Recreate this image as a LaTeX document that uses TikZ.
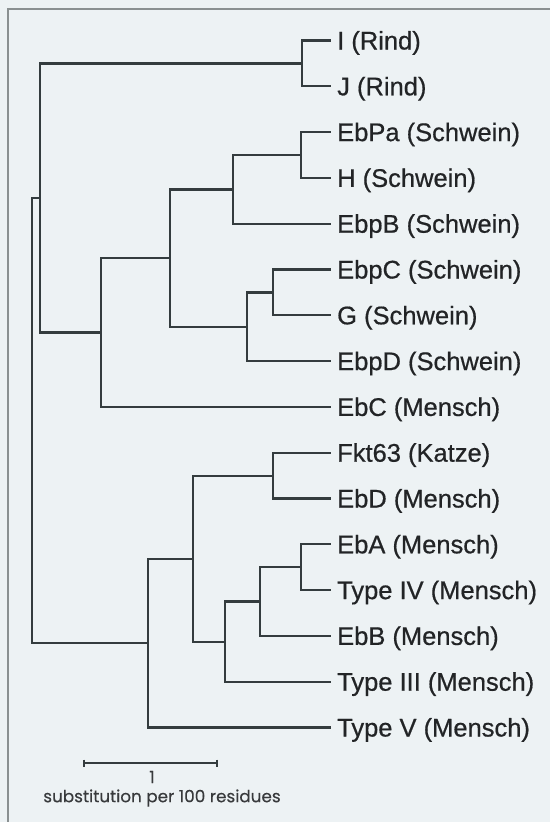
\documentclass[tikz,border=0pt]{standalone}
\usepackage{fontspec}
\setmainfont{Liberation Sans}
\newfontfamily\leaffont{Liberation Sans}[FakeBold=0.6]
\newfontfamily\barlabelfont{Poppins}[FakeBold=0.3]
\definecolor{paper}{RGB}{237,242,244}
\definecolor{branch}{RGB}{52,60,62}
\definecolor{ink}{RGB}{34,36,38}
\definecolor{framegray}{RGB}{138,144,145}
\tikzset{
  branchline/.style={draw=branch, line width=2.2pt, line cap=rect},
  leaflabel/.style={anchor=base west, inner sep=0pt, xshift=7pt, yshift=-9pt,
    text=ink, font=\leaffont\fontsize{25.5}{30}\selectfont},
  scaletext/.style={inner sep=0pt, text=ink!90, font=\barlabelfont\fontsize{16.8}{20}\selectfont},
}
\begin{document}
\begin{tikzpicture}[x=1pt,y=-1pt]
  % page and frame
  \fill[paper] (0,0) rectangle (550,822);
  \useasboundingbox (0,0) rectangle (550,822);
  \draw[framegray, line width=1.4pt] (8,822) -- (8,9) -- (550,9);

  % leaf tips (y = 40.5 + 45.8 i)
  \foreach \nm [count=\i from 0] in {I,J,EbPa,H,EbpB,EbpC,G,EbpD,EbC,Fkt,EbD,EbA,TIV,EbB,TIII,TV}
    \coordinate (l\nm) at (330, 40.5+45.8*\i);

  % labels
  \node[leaflabel] (tI)    at (lI)    {I (Rind)};
  \node[leaflabel] (tJ)    at (lJ)    {J (Rind)};
  \node[leaflabel] (tEbPa) at (lEbPa) {EbPa (Schwein)};
  \node[leaflabel] (tH)    at (lH)    {H (Schwein)};
  \node[leaflabel] (tEbpB) at (lEbpB) {EbpB (Schwein)};
  \node[leaflabel] (tEbpC) at (lEbpC) {EbpC (Schwein)};
  \node[leaflabel] (tG)    at (lG)    {G (Schwein)};
  \node[leaflabel] (tEbpD) at (lEbpD) {EbpD (Schwein)};
  \node[leaflabel] (tEbC)  at (lEbC)  {EbC (Mensch)};
  \node[leaflabel] (tFkt)  at (lFkt)  {Fkt63 (Katze)};
  \node[leaflabel] (tEbD)  at (lEbD)  {EbD (Mensch)};
  \node[leaflabel] (tEbA)  at (lEbA)  {EbA (Mensch)};
  \node[leaflabel] (tTIV)  at (lTIV)  {Type IV (Mensch)};
  \node[leaflabel] (tEbB)  at (lEbB)  {EbB (Mensch)};
  \node[leaflabel] (tTIII) at (lTIII) {Type III (Mensch)};
  \node[leaflabel] (tTV)   at (lTV)   {Type V (Mensch)};

  % internal nodes
  \coordinate (nIJ)   at (302, 63.4);
  \coordinate (nPH)   at (301, 155.0);
  \coordinate (nPHB)  at (233, 189.4);
  \coordinate (nCG)   at (273, 292.4);
  \coordinate (nCGD)  at (247, 326.8);
  \coordinate (nPig)  at (170, 258.0);
  \coordinate (nPigC) at (101, 332.5);
  \coordinate (nTop)  at (40, 198.0);
  \coordinate (nFD)   at (273, 475.6);
  \coordinate (nAT)   at (301, 567.2);
  \coordinate (nATB)  at (260, 601.5);
  \coordinate (nATBX) at (225, 641.6);
  \coordinate (nHum)  at (193, 558.6);
  \coordinate (nLow)  at (148, 643.0);
  \coordinate (root)  at (32, 420.5);

  % branches
  \foreach \p/\c in {nIJ/lI, nIJ/lJ,
                     nPH/lEbPa, nPH/lH, nPHB/nPH, nPHB/lEbpB,
                     nCG/lEbpC, nCG/lG, nCGD/nCG, nCGD/lEbpD,
                     nPig/nPHB, nPig/nCGD, nPigC/nPig, nPigC/lEbC,
                     nTop/nIJ, nTop/nPigC,
                     nFD/lFkt, nFD/lEbD,
                     nAT/lEbA, nAT/lTIV, nATB/nAT, nATB/lEbB,
                     nATBX/nATB, nATBX/lTIII,
                     nHum/nFD, nHum/nATBX,
                     nLow/nHum, nLow/lTV,
                     root/nTop, root/nLow}
    \draw[branchline] (\p) |- (\c);

  % scale bar
  \coordinate (sbL) at (84,763);
  \coordinate (sbR) at (217,763);
  \draw[branch, line width=2.2pt] (sbL) -- (sbR);
  \draw[branch, line width=1.6pt] ([yshift=3.5pt]sbL) -- ([yshift=-3.5pt]sbL);
  \draw[branch, line width=1.6pt] ([yshift=3.5pt]sbR) -- ([yshift=-3.5pt]sbR);
  \node[scaletext] (sbOne) at (152,777) {1};
  \node[scaletext] (sbText) at (162,798) {substitution per 100 residues};
\end{tikzpicture}
\end{document}
